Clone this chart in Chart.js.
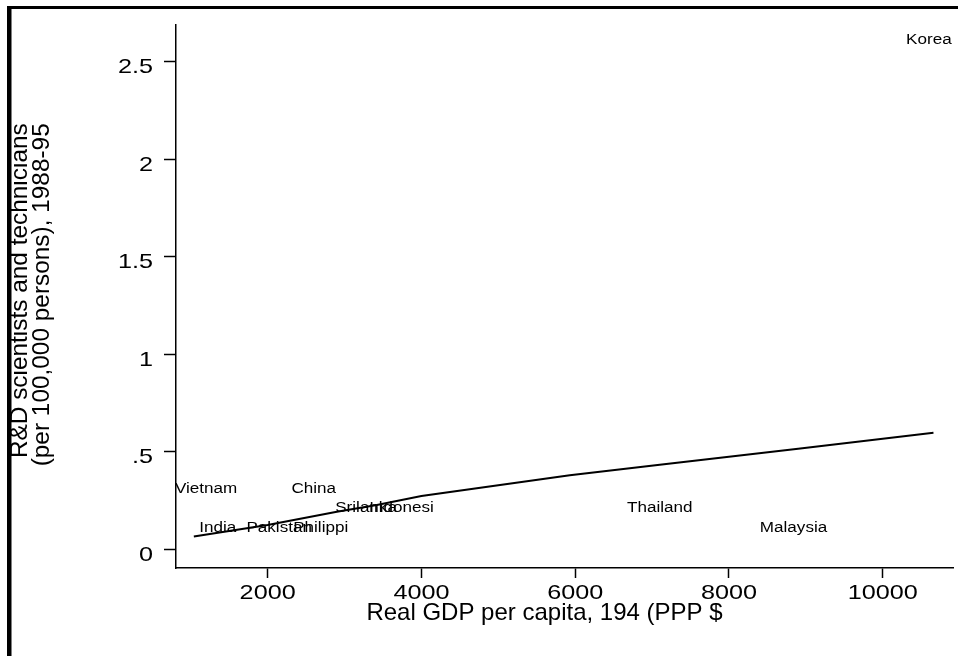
<!DOCTYPE html>
<html>
<head>
<meta charset="utf-8">
<title>R&amp;D personnel and income</title>
<script src="https://cdn.jsdelivr.net/npm/chart.js@4"></script>
<style>
  html, body { margin: 0; padding: 0; background: #fff; }
  canvas { display: block; }
</style>
</head>
<body>
<canvas id="chart" width="958" height="656"></canvas>
<script>
// Country labels (names cut to eight characters) and their positions
const countries = ['Vietnam', 'India', 'Pakistan', 'China', 'Philippi', 'Srilanka', 'Indonesi', 'Thailand', 'Malaysia', 'Korea'];
const gdpPerCapita = [1200, 1350, 2150, 2600, 2690, 3280, 3740, 7100, 8840, 10600];
const rdPersonnel = [0.314, 0.113, 0.113, 0.314, 0.113, 0.218, 0.218, 0.218, 0.115, 2.618];

// Fitted line
const fitGdp = [1040, 2000, 2900, 3420, 4000, 5930, 7100, 8900, 10660];
const fitRd = [0.065, 0.124, 0.193, 0.227, 0.273, 0.380, 0.434, 0.516, 0.598];

// Axis ticks
const xTickValues = [2000, 4000, 6000, 8000, 10000];
const xTickLabels = ['2000', '4000', '6000', '8000', '10000'];
const yTickValues = [0, 0.5, 1, 1.5, 2, 2.5];
const yTickLabels = ['0', '.5', '1', '1.5', '2', '2.5'];

const xTitle = 'Real GDP per capita, 194 (PPP $';
const yTitleLines = ['R&D scientists and technicians', '(per 100,000 persons), 1988-95'];

const FONT = '"Liberation Sans", Arial, Helvetica, sans-serif';

function stretchedText(ctx, text, x, y, align, size, sx) {
  ctx.save();
  ctx.translate(x, y);
  ctx.scale(sx, 1);
  ctx.font = size + 'px ' + FONT;
  ctx.textAlign = align;
  ctx.textBaseline = 'alphabetic';
  ctx.fillStyle = '#000';
  ctx.fillText(text, 0, 0);
  ctx.restore();
}

// White page with the heavy frame along the top and left edges
const pageFrame = {
  id: 'pageFrame',
  beforeDraw(chart) {
    const ctx = chart.ctx;
    ctx.save();
    ctx.fillStyle = '#fff';
    ctx.fillRect(0, 0, chart.width, chart.height);
    ctx.fillStyle = '#000';
    ctx.fillRect(7, 6, chart.width - 7, 3);
    ctx.fillRect(7, 6, 4.5, chart.height - 6);
    ctx.restore();
  }
};

// Tick labels, axis titles and country labels
const textLayer = {
  id: 'textLayer',
  afterDatasetsDraw(chart) {
    const ctx = chart.ctx;
    const xs = chart.scales.x;
    const ys = chart.scales.y;

    xTickValues.forEach((v, i) => {
      stretchedText(ctx, xTickLabels[i], xs.getPixelForValue(v), 598.5, 'center', 21, 1.2);
    });
    yTickValues.forEach((v, i) => {
      stretchedText(ctx, yTickLabels[i], 153, ys.getPixelForValue(v) + 11.5, 'right', 21, 1.2);
    });

    // country names centred on their points
    const meta = chart.getDatasetMeta(1);
    meta.data.forEach((pt, i) => {
      stretchedText(ctx, countries[i], pt.x, pt.y + 5, 'center', 14, 1.22);
    });

    // axis titles
    ctx.save();
    ctx.fillStyle = '#000';
    ctx.font = '24px ' + FONT;
    ctx.textAlign = 'center';
    ctx.textBaseline = 'alphabetic';
    ctx.fillText(xTitle, 544.5, 620);
    ctx.font = '24.4px ' + FONT;
    ctx.translate(27, 290.7);
    ctx.rotate(-Math.PI / 2);
    ctx.fillText(yTitleLines[0], 0, 0);
    ctx.restore();
    ctx.save();
    ctx.fillStyle = '#000';
    ctx.font = '24.4px ' + FONT;
    ctx.textAlign = 'center';
    ctx.translate(48.5, 294.8);
    ctx.rotate(-Math.PI / 2);
    ctx.fillText(yTitleLines[1], 0, 0);
    ctx.restore();
  }
};

new Chart(document.getElementById('chart'), {
  type: 'scatter',
  data: {
    datasets: [
      {
        label: 'Fitted',
        data: fitGdp.map((x, i) => ({ x: x, y: fitRd[i] })),
        showLine: true,
        borderColor: '#000',
        borderWidth: 2,
        pointRadius: 0,
        tension: 0,
        fill: false
      },
      {
        label: 'Countries',
        data: gdpPerCapita.map((x, i) => ({ x: x, y: rdPersonnel[i] })),
        pointRadius: 0,
        showLine: false
      }
    ]
  },
  options: {
    responsive: false,
    animation: false,
    devicePixelRatio: 1,
    layout: { padding: { top: 25, right: 5, left: 0, bottom: 0 } },
    plugins: { legend: { display: false }, tooltip: { enabled: false } },
    scales: {
      x: {
        type: 'linear',
        position: 'bottom',
        min: 808,
        max: 10914,
        afterBuildTicks(scale) { scale.ticks = xTickValues.map(v => ({ value: v })); },
        afterFit(scale) { scale.height = 88; },
        ticks: { display: false },
        grid: { display: true, drawOnChartArea: false, drawTicks: true, tickLength: 10, tickColor: '#000', tickWidth: 1.5 },
        border: { display: true, color: '#000', width: 1.5 }
      },
      y: {
        type: 'linear',
        position: 'left',
        min: -0.096,
        max: 2.689,
        afterBuildTicks(scale) { scale.ticks = yTickValues.map(v => ({ value: v })); },
        afterFit(scale) { scale.width = 176; },
        ticks: { display: false },
        grid: { display: true, drawOnChartArea: false, drawTicks: true, tickLength: 12, tickColor: '#000', tickWidth: 1.5 },
        border: { display: true, color: '#000', width: 1.5 }
      }
    }
  },
  plugins: [pageFrame, textLayer]
});
</script>
</body>
</html>
